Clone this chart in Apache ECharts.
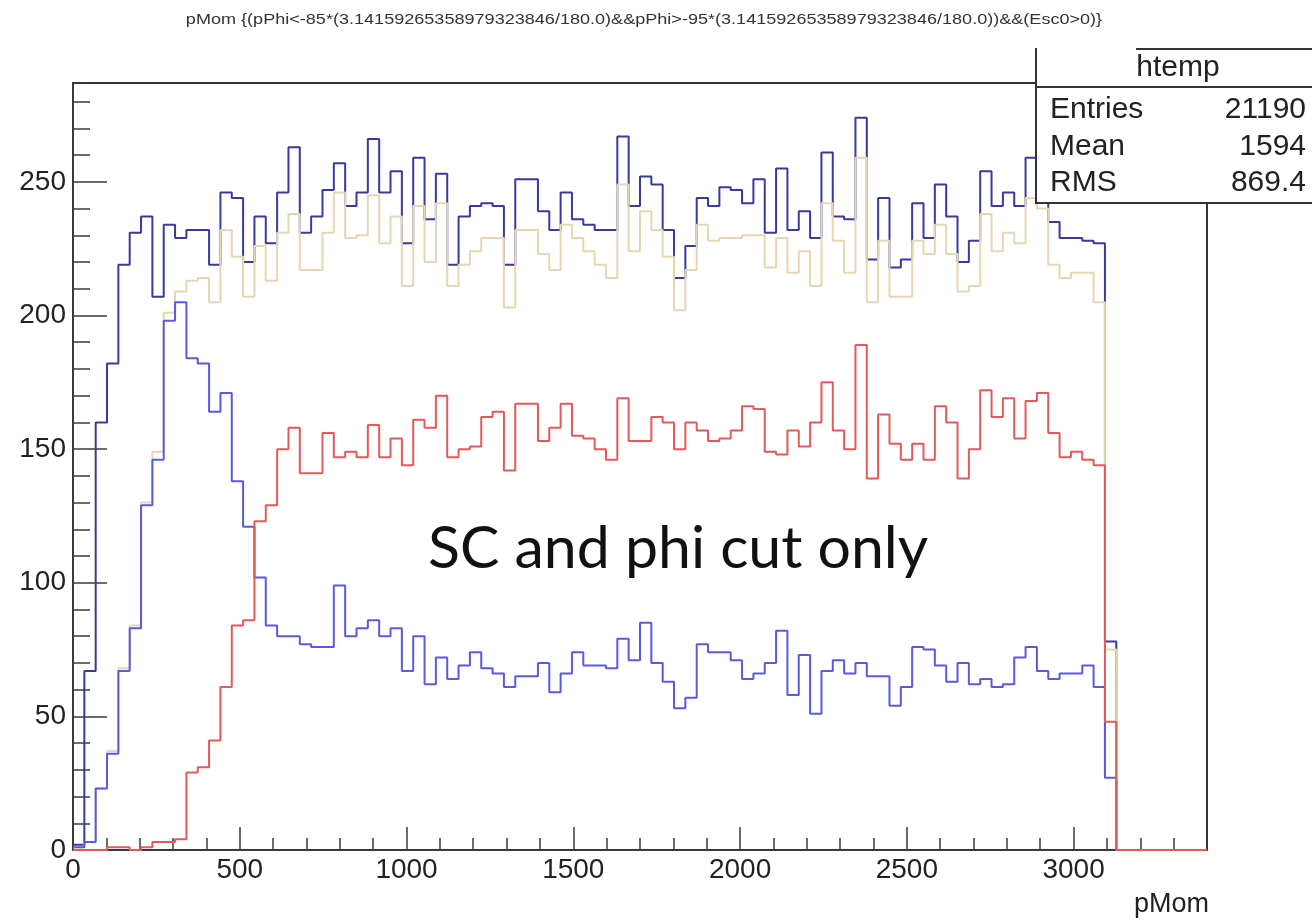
<!DOCTYPE html>
<html><head><meta charset="utf-8">
<script src="https://cdn.jsdelivr.net/npm/echarts@6/dist/echarts.min.js"></script>
<style>html,body{margin:0;padding:0;background:#fff}#c{width:1312px;height:921px}</style>
</head><body><div id="c"></div>
<script>
// ---- histogram definition ----
const binWidth = 34;          // pMom units per bin (100 bins over 0..3400)
const xMin = 0, xMax = 3400;
const yMin = 0, yMax = 287;
const xMajor = 500, xMinor = 100;
const yMajor = 50, yMinor = 10;

// all entries (dark blue)
const allCounts = [2,67,160,182,219,231,237,207,234,229,232,232,219,246,244,220,237,227,246,263,
  231,237,247,257,241,246,266,246,254,227,259,236,253,219,237,241,242,241,219,251,
  251,239,232,246,236,234,232,232,267,241,252,249,232,214,226,244,241,248,247,242,
  251,231,255,232,239,229,261,237,236,274,221,244,218,221,242,229,249,237,220,228,
  254,241,246,241,259,250,235,229,229,228,227,78,0,0,0,0,0,0,0,0];
// selected (tan)
const tanCounts = [1,3,23,37,68,84,130,149,201,209,213,214,205,232,222,207,226,213,231,238,
  217,217,231,246,229,230,245,227,237,211,241,220,242,211,219,224,229,229,203,232,
  232,223,217,234,229,224,219,214,249,224,239,232,222,202,217,234,228,229,229,230,
  230,218,229,216,224,211,242,228,216,259,205,228,207,207,228,223,234,223,209,211,
  238,224,231,227,244,240,219,214,216,216,205,75,0,0,0,0,0,0,0,0];
// blue component
const blueCounts = [1,3,23,36,67,83,129,146,198,205,184,182,164,171,138,121,102,84,80,80,
  77,76,76,99,80,83,86,80,83,67,80,62,72,64,69,74,68,66,61,65,
  65,70,59,66,74,69,69,68,79,71,85,70,63,53,57,77,74,74,71,64,
  66,70,82,58,73,51,67,71,66,70,65,65,54,61,76,75,69,63,70,62,
  64,61,62,72,76,67,64,66,66,69,61,27,0,0,0,0,0,0,0,0];
// red component
const redCounts = [0,0,0,1,1,0,1,3,3,4,29,31,41,61,84,86,123,129,150,158,
  141,141,156,147,149,147,159,147,154,144,161,158,170,147,150,151,162,164,142,167,
  167,153,158,167,155,154,150,146,169,153,153,162,160,150,160,157,153,154,157,166,
  165,149,148,157,151,160,175,157,150,189,139,163,152,146,152,146,166,160,139,150,
  172,162,169,154,168,171,156,147,149,146,144,48,0,0,0,0,0,0,0,0];

const titleText = 'pMom {(pPhi<-85*(3.14159265358979323846/180.0)&&pPhi>-95*(3.14159265358979323846/180.0))&&(Esc0>0)}';
const statsName = 'htemp';
const statsLabels = ['Entries', 'Mean', 'RMS'];
const statsValues = ['21190', '1594', '869.4'];
const xTitle = 'pMom';
const noteText = 'SC and phi cut only';

const colors = { all: '#3a3a9c', tan: '#e6d6b2', blue: '#5a5ae0', red: '#e25a5a' };

function steps(counts) {
  const pts = counts.map((c, i) => [xMin + i * binWidth, c]);
  pts.push([xMin + counts.length * binWidth, counts[counts.length - 1]]);
  return pts;
}
function histSeries(counts, color, z) {
  return { type: 'line', step: 'end', data: steps(counts), symbol: 'none', showSymbol: false,
    silent: true, animation: false, z: z, lineStyle: { color: color, width: 2 } };
}

const FONT = 'Liberation Sans';
const axisCol = '#3a3a3a';
const chart = echarts.init(document.getElementById('c'), null, { renderer: 'canvas' });
const gridL = 73, gridR = 105, gridT = 83, gridB = 71;
const statsFont = '30px "Liberation Sans"';

chart.setOption({
  animation: false,
  backgroundColor: '#fff',
  grid: { left: gridL, right: gridR, top: gridT, bottom: gridB, show: true, borderColor: '#333', borderWidth: 2, backgroundColor: 'transparent' },
  xAxis: [
    { type: 'value', min: xMin, max: xMax, interval: xMajor, position: 'bottom',
      axisLine: { show: true, onZero: false, lineStyle: { color: axisCol, width: 2 } },
      axisTick: { show: true, inside: true, length: 23, lineStyle: { color: axisCol, width: 1.5 } },
      axisLabel: { show: true, showMaxLabel: false, margin: 6, fontFamily: FONT, fontSize: 28, color: '#222',
        formatter: v => String(v) },
      splitLine: { show: false } },
    { type: 'value', min: xMin, max: xMax, interval: xMinor, position: 'bottom',
      axisLine: { show: false },
      axisTick: { show: true, inside: true, length: 12, lineStyle: { color: axisCol, width: 1.5 } },
      axisLabel: { show: false }, splitLine: { show: false } }
  ],
  yAxis: [
    { type: 'value', min: yMin, max: yMax, interval: yMajor, position: 'left',
      axisLine: { show: true, onZero: false, lineStyle: { color: axisCol, width: 2 } },
      axisTick: { show: true, inside: true, length: 34, lineStyle: { color: axisCol, width: 1.5 } },
      axisLabel: { show: true, showMaxLabel: false, margin: 7, fontFamily: FONT, fontSize: 28, color: '#222',
        formatter: v => String(v) },
      splitLine: { show: false } },
    { type: 'value', min: yMin, max: yMax, interval: yMinor, position: 'left',
      axisLine: { show: false },
      axisTick: { show: true, inside: true, length: 17, lineStyle: { color: axisCol, width: 1.5 } },
      axisLabel: { show: false }, splitLine: { show: false } }
  ],
  series: [
    histSeries(allCounts, colors.all, 2),
    histSeries(tanCounts, colors.tan, 3),
    histSeries(blueCounts, colors.blue, 4),
    histSeries(redCounts, colors.red, 5)
  ],
  graphic: [
    { type: 'text', x: 644, y: 20, z: 100, scaleX: 1.29, originX: 0, originY: 0,
      style: { text: titleText, font: '14px "Liberation Sans"', fill: '#333', textAlign: 'center', textVerticalAlign: 'middle' } },
    { type: 'text', x: 1209, y: 905, z: 100, style: { text: xTitle, font: '27px "Liberation Sans"', fill: '#222', textAlign: 'right', textVerticalAlign: 'middle' } },
    { type: 'text', x: 428, y: 549, z: 100, style: { text: noteText, font: '59px Lato', fill: '#111', textAlign: 'left', textVerticalAlign: 'middle' } },
    { type: 'rect', z: 100, shape: { x: 1036, y: 49, width: 290, height: 154 }, style: { fill: '#fff', stroke: null } },
    { type: 'line', z: 101, shape: { x1: 1036, y1: 48, x2: 1036, y2: 204 }, style: { stroke: '#333', lineWidth: 2 } },
    { type: 'line', z: 101, shape: { x1: 1136, y1: 49, x2: 1312, y2: 49 }, style: { stroke: '#333', lineWidth: 2 } },
    { type: 'line', z: 101, shape: { x1: 1036, y1: 87, x2: 1312, y2: 87 }, style: { stroke: '#333', lineWidth: 2 } },
    { type: 'line', z: 101, shape: { x1: 1036, y1: 203, x2: 1312, y2: 203 }, style: { stroke: '#333', lineWidth: 2 } },
    { type: 'text', x: 1178, y: 68, z: 102, style: { text: statsName, font: statsFont, fill: '#222', textAlign: 'center', textVerticalAlign: 'middle' } },
    { type: 'text', x: 1050, y: 110, z: 102, style: { text: statsLabels[0], font: statsFont, fill: '#222', textAlign: 'left', textVerticalAlign: 'middle' } },
    { type: 'text', x: 1050, y: 147, z: 102, style: { text: statsLabels[1], font: statsFont, fill: '#222', textAlign: 'left', textVerticalAlign: 'middle' } },
    { type: 'text', x: 1050, y: 183, z: 102, style: { text: statsLabels[2], font: statsFont, fill: '#222', textAlign: 'left', textVerticalAlign: 'middle' } },
    { type: 'text', x: 1306, y: 110, z: 102, style: { text: statsValues[0], font: statsFont, fill: '#222', textAlign: 'right', textVerticalAlign: 'middle' } },
    { type: 'text', x: 1306, y: 147, z: 102, style: { text: statsValues[1], font: statsFont, fill: '#222', textAlign: 'right', textVerticalAlign: 'middle' } },
    { type: 'text', x: 1306, y: 183, z: 102, style: { text: statsValues[2], font: statsFont, fill: '#222', textAlign: 'right', textVerticalAlign: 'middle' } }
  ]
});
</script></body></html>
